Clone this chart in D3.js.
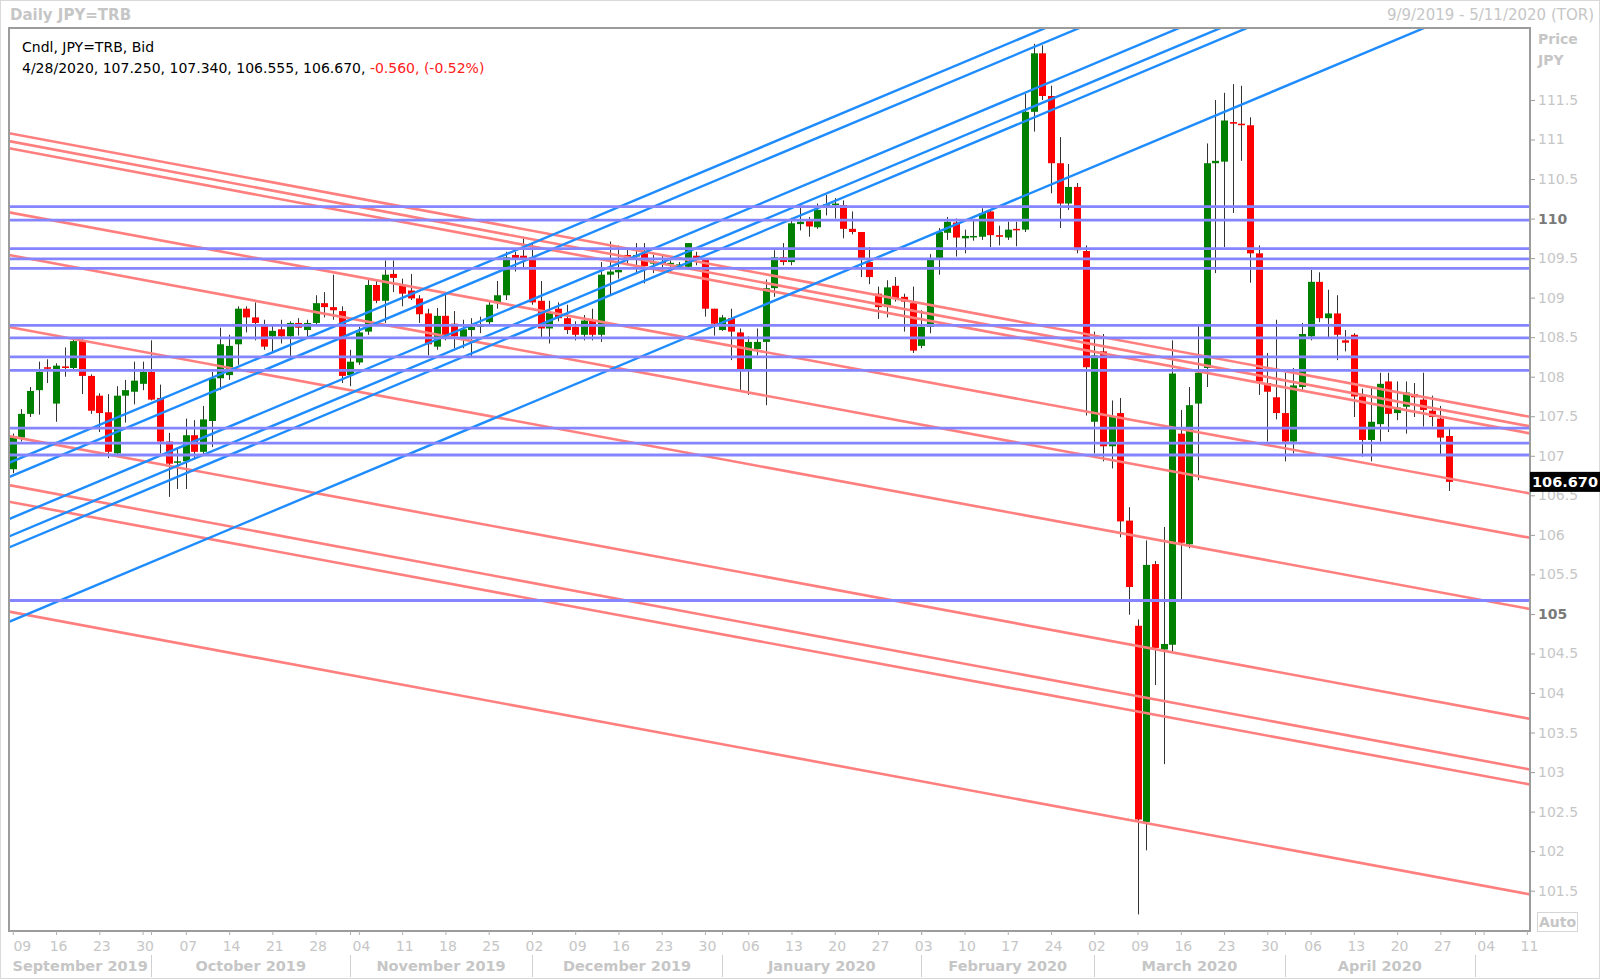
<!DOCTYPE html>
<html><head><meta charset="utf-8">
<script src="https://cdn.jsdelivr.net/npm/d3@7"></script>
<style>body{margin:0;background:#fff;} svg{display:block;font-family:"DejaVu Sans",Verdana,sans-serif;}</style>
</head><body>
<svg id="chart" width="1600" height="979"></svg>
<script>
// ---------------- DATA ----------------
const firstDay = new Date(2019, 8, 9);   // Mon 9 Sep 2019
const lastDay = new Date(2020, 4, 11);   // Mon 11 May 2020
const opens = [106.83,107.23,107.53,107.83,108.12,107.66,108.13,108.11,108.45,108.01,107.76,107.55,107.03,107.76,107.81,107.91,
108.06,107.73,107.18,106.92,106.93,107.26,107.05,107.44,107.98,108.02,108.41,108.86,108.75,108.64,108.51,108.60,108.51,108.68,108.59,108.68,108.93,108.88,108.83,
108.02,108.18,108.57,109.16,108.96,109.30,109.15,109.09,108.99,108.80,108.38,108.77,108.67,108.50,108.59,108.63,108.69,108.93,109.03,109.54,109.53,
109.51,108.96,108.61,108.86,108.74,108.63,108.53,108.71,108.53,109.29,109.32,109.54,109.52,109.56,109.43,109.45,109.43,109.41,109.39,109.53,109.48,108.86,
108.59,108.74,108.56,108.09,108.35,108.44,109.12,109.51,109.45,109.93,109.98,109.89,110.15,110.17,110.17,109.87,109.83,109.45,109.05,108.88,109.15,109.01,108.93,
108.39,108.63,109.48,109.82,109.95,109.75,109.77,109.77,110.09,109.79,109.76,109.87,109.86,111.35,112.09,111.55,110.70,110.19,110.40,109.59,
107.43,108.32,107.12,107.54,106.18,104.85,102.37,105.63,104.55,104.61,107.28,105.88,107.66,108.11,110.70,110.72,111.22,111.20,111.18,109.56,107.92,107.74,
107.54,107.18,107.87,108.51,109.20,108.74,108.80,108.46,108.53,107.75,107.20,107.40,107.94,107.54,107.62,107.78,107.71,107.57,107.47,107.25];
const highs = [107.28,107.59,107.87,108.19,108.22,108.17,108.37,108.49,108.48,108.03,107.79,107.78,107.88,107.96,108.19,108.19,
108.46,107.90,107.29,107.11,107.47,107.45,107.63,108.06,108.62,108.53,108.89,108.89,108.94,108.72,108.64,108.72,108.70,108.74,108.72,109.03,109.07,109.29,108.89,
108.34,108.63,109.23,109.21,109.47,109.47,109.24,109.30,109.03,108.86,108.87,109.06,108.83,108.72,108.74,108.76,108.95,109.21,109.58,109.58,109.77,
109.69,109.21,108.96,108.94,108.91,108.70,108.78,108.86,109.45,109.71,109.66,109.63,109.69,109.69,109.54,109.54,109.47,109.45,109.69,109.58,109.50,108.86,
108.78,108.86,108.61,108.51,108.61,109.23,109.60,109.69,110.01,110.19,110.02,110.19,110.30,110.26,110.23,110.09,109.83,109.64,109.14,109.22,109.26,109.05,109.14,
108.84,109.55,109.88,110.02,110.00,109.86,109.97,110.13,110.12,109.91,109.96,109.96,111.58,112.21,112.19,111.68,111.03,110.69,110.45,109.66,
108.57,108.54,107.70,107.73,106.35,104.93,105.93,105.67,106.10,108.46,107.58,107.87,108.64,110.95,111.50,111.59,111.70,111.68,111.28,109.66,108.30,108.72,
108.05,108.11,108.68,109.35,109.32,109.10,109.03,108.59,108.55,107.85,107.88,108.05,108.05,107.94,107.94,107.92,108.05,107.76,107.63,107.34];
const lows = [106.78,107.18,107.49,107.52,107.92,107.43,108.00,108.08,107.78,107.53,107.30,106.97,107.01,107.42,107.65,107.83,
107.70,107.03,106.48,106.58,106.58,106.95,107.01,107.11,107.83,107.96,108.15,108.56,108.46,108.34,108.30,108.42,108.26,108.52,108.51,108.65,108.75,108.72,107.92,
107.88,108.15,108.53,108.93,108.68,109.07,108.89,108.97,108.68,108.27,108.34,108.46,108.36,108.36,108.26,108.55,108.65,108.86,108.97,109.33,109.38,
108.91,108.50,108.42,108.70,108.54,108.46,108.46,108.46,108.44,109.03,109.24,109.41,109.31,109.18,109.31,109.35,109.31,109.38,109.37,109.41,108.76,108.52,
108.58,108.21,107.83,107.77,108.27,107.64,109.01,109.41,109.41,109.85,109.77,109.87,110.04,110.00,109.75,109.80,109.26,109.17,108.73,108.75,108.95,108.57,108.30,
108.36,108.55,109.29,109.73,109.52,109.56,109.72,109.73,109.64,109.66,109.73,109.65,109.83,111.10,111.50,110.32,109.88,110.11,109.56,107.51,
107.03,106.93,106.84,105.97,104.99,101.20,102.01,104.10,103.10,104.52,105.18,105.83,106.69,107.87,109.31,109.64,110.07,110.73,109.19,107.77,107.18,107.46,
106.93,107.03,107.83,108.46,108.69,108.50,108.21,108.32,107.49,106.99,106.93,107.18,107.30,107.45,107.28,107.49,107.37,107.37,107.02,106.555];
const closes = [107.25,107.53,107.82,108.06,108.10,108.14,108.11,108.45,108.01,107.57,107.54,107.05,107.76,107.83,107.95,108.06,
107.71,107.18,106.90,106.93,107.26,107.05,107.46,107.98,108.41,108.39,108.86,108.75,108.68,108.38,108.58,108.51,108.68,108.62,108.68,108.93,108.88,108.84,108.01,
108.19,108.56,109.16,108.96,109.29,109.25,109.05,108.99,108.79,108.41,108.77,108.50,108.51,108.60,108.63,108.66,108.91,109.03,109.51,109.50,109.50,
108.94,108.61,108.81,108.74,108.59,108.53,108.71,108.53,109.29,109.33,109.35,109.50,109.54,109.40,109.45,109.43,109.44,109.42,109.69,109.48,108.86,108.67,
108.75,108.57,108.09,108.44,108.44,109.12,109.51,109.45,109.94,109.96,109.90,110.11,110.18,110.19,109.87,109.83,109.48,109.26,108.88,109.13,108.99,108.95,108.33,
108.63,109.48,109.83,109.96,109.76,109.78,109.78,110.07,109.79,109.77,109.86,109.86,111.35,112.09,111.55,110.70,110.19,110.40,109.60,108.12,
108.27,107.12,107.49,106.17,105.34,102.40,105.62,104.57,104.62,108.04,105.90,107.64,108.05,110.70,110.73,111.24,111.20,111.18,109.56,107.94,107.81,107.54,
107.18,107.89,108.54,109.20,108.74,108.80,108.53,108.43,107.75,107.20,107.43,107.91,107.53,107.61,107.80,107.74,107.58,107.49,107.23,106.67];

// horizontal support / resistance levels
const hLevels = [110.15,109.98,109.62,109.49,109.37,108.65,108.49,108.25,108.08,107.35,107.16,107.01,105.17];
// rising blue trend lines: price at bar 0 and at bar 120
const blueAnchorBars = [0, 120];
const blueStart = [106.93,106.75,106.22,106.00,105.86,104.92];
const blueEnd = [112.44,112.26,111.73,111.51,111.37,110.43];
// falling red trend lines: price at bar 0 and at bar 175
const redAnchorBars = [0, 175];
const redStart = [111.07,110.97,110.88,110.07,109.53,108.62,107.24,106.62,106.41,105.02];
const redEnd = [107.50,107.38,107.29,106.53,105.97,105.07,103.68,103.04,102.85,101.46];

const priceTicks = d3.range(101.5, 111.51, 0.5);
const boldTicks = [105, 110];
const lastQuote = "4/28/2020, 107.250, 107.340, 106.555, 106.670, ";
const lastChange = "-0.560, (-0.52%)";
const lastPrice = "106.670";

// ---------------- LAYOUT ----------------
const L = 9, R = 1530, T = 28, B = 931;
const svg = d3.select("#chart");
const grey = "#c6c6c6";

const days = d3.timeDay.range(firstDay, d3.timeDay.offset(lastDay, 1)).filter(d => d.getDay() % 6 !== 0);
const candles = opens.map((o, i) => ({i, o, h: highs[i], l: lows[i], c: closes[i]}));

const x = d3.scaleLinear().domain([-0.44, 175.36]).range([L, R]);
const y = d3.scaleLinear().domain([100.99, 112.41]).range([B, T]);

// outer border
svg.append("rect").attr("x", 0.5).attr("y", 0.5).attr("width", 1599).attr("height", 978)
  .attr("fill", "none").attr("stroke", "#d9d9d9");

svg.append("defs").append("clipPath").attr("id", "plotclip")
  .append("rect").attr("x", L).attr("y", T).attr("width", R - L).attr("height", B - T);

// candles
const cg = svg.append("g").attr("clip-path", "url(#plotclip)");
const bw = 7;
cg.selectAll("line.wick").data(candles).join("line").attr("class", "wick")
  .attr("x1", d => Math.round(x(d.i)) + 0.5).attr("x2", d => Math.round(x(d.i)) + 0.5)
  .attr("y1", d => y(d.h)).attr("y2", d => y(d.l))
  .attr("stroke", "#333").attr("stroke-width", 1);
cg.selectAll("rect.body").data(candles).join("rect").attr("class", "body")
  .attr("x", d => Math.round(x(d.i)) - 3)
  .attr("width", bw)
  .attr("y", d => y(Math.max(d.o, d.c)))
  .attr("height", d => Math.max(1.5, Math.abs(y(d.o) - y(d.c))))
  .attr("fill", d => d.c >= d.o ? "#008000" : "#ff0000");

// lines
const lg = svg.append("g").attr("clip-path", "url(#plotclip)");
const xd = x.domain();
function extend(b0, p0, b1, p1) {
  const s = (p1 - p0) / (b1 - b0);
  return [[xd[0], p0 + s * (xd[0] - b0)], [xd[1], p0 + s * (xd[1] - b0)]];
}
const lineGen = d3.line().x(d => x(d[0])).y(d => y(d[1]));
lg.selectAll("path.red").data(redStart.map((p, k) => extend(redAnchorBars[0], p, redAnchorBars[1], redEnd[k])))
  .join("path").attr("class", "red").attr("d", lineGen)
  .attr("fill", "none").attr("stroke", "#ff7f7f").attr("stroke-width", 2.6);
lg.selectAll("path.blue").data(blueStart.map((p, k) => extend(blueAnchorBars[0], p, blueAnchorBars[1], blueEnd[k])))
  .join("path").attr("class", "blue").attr("d", lineGen)
  .attr("fill", "none").attr("stroke", "#1e8cff").attr("stroke-width", 2.4);
lg.selectAll("path.hl").data(hLevels.map(p => [[xd[0], p], [xd[1], p]]))
  .join("path").attr("class", "hl").attr("d", lineGen)
  .attr("fill", "none").attr("stroke", "#8585ff").attr("stroke-width", 2.8);

// frame
svg.append("rect").attr("x", L).attr("y", T).attr("width", R - L).attr("height", B - T)
  .attr("fill", "none").attr("stroke", "#9c9c9c").attr("stroke-width", 2);

// right price axis
const yAxis = d3.axisRight(y).tickValues(priceTicks).tickSize(5).tickPadding(3)
  .tickFormat(d => d3.format("")(+d.toFixed(1)));
const ya = svg.append("g").attr("transform", `translate(${R},0)`).call(yAxis);
ya.select(".domain").remove();
ya.selectAll(".tick line").attr("stroke", "#9c9c9c");
ya.selectAll(".tick text").attr("fill", grey).attr("font-size", 14).attr("font-family", "DejaVu Sans")
  .filter(d => boldTicks.includes(+d.toFixed(1)))
  .attr("fill", "#7a7a7a").attr("font-weight", "bold");

svg.append("text").attr("x", 1538).attr("y", 44).text("Price")
  .attr("font-size", 14).attr("font-weight", "bold").attr("fill", grey);
svg.append("text").attr("x", 1538).attr("y", 65).text("JPY")
  .attr("font-size", 14).attr("font-weight", "bold").attr("fill", grey);

// last price box
const ly = y(closes[closes.length - 1]);
svg.append("rect").attr("x", R).attr("y", ly - 10).attr("width", 70).attr("height", 20).attr("fill", "#000");
svg.append("text").attr("x", R + 2).attr("y", ly + 5).text(lastPrice)
  .attr("font-size", 14.5).attr("font-weight", "bold").attr("fill", "#fff");

// Auto box
svg.append("rect").attr("x", 1537.5).attr("y", 912.5).attr("width", 40).attr("height", 19)
  .attr("fill", "none").attr("stroke", "#d6d6d6");
svg.append("text").attr("x", 1557.5).attr("y", 927).attr("text-anchor", "middle").text("Auto")
  .attr("font-size", 14).attr("font-weight", "bold").attr("fill", grey);

// bottom axis
const mondays = days.map((d, i) => ({d, i})).filter(o => o.d.getDay() === 1);
const xAxis = d3.axisBottom(x).tickValues(mondays.map(o => o.i)).tickSize(4).tickPadding(6)
  .tickFormat(i => d3.timeFormat("%d")(days[i]));
const xa = svg.append("g").attr("transform", `translate(0,${B})`).call(xAxis);
xa.select(".domain").remove();
xa.selectAll(".tick line").attr("stroke", "#b0b0b0");
xa.selectAll(".tick text").attr("fill", grey).attr("font-size", 14).attr("font-family", "DejaVu Sans")
  .attr("dx", i => i === 0 ? 9 : 2);

// month separators and labels
const monthStarts = days.map((d, i) => ({d, i})).filter(o => o.i > 0 && o.d.getMonth() !== days[o.i - 1].getMonth());
const mg = svg.append("g");
mg.selectAll("line.mt").data(monthStarts).join("line").attr("class", "mt")
  .attr("x1", o => Math.round(x(o.i)) + 0.5).attr("x2", o => Math.round(x(o.i)) + 0.5)
  .attr("y1", B).attr("y2", B + 4).attr("stroke", "#b0b0b0");
mg.selectAll("line.ms").data(monthStarts).join("line").attr("class", "ms")
  .attr("x1", o => Math.round(x(o.i)) + 0.5).attr("x2", o => Math.round(x(o.i)) + 0.5)
  .attr("y1", 955).attr("y2", 977).attr("stroke", "#d0d0d0");
const segs = [];
[{d: days[0], i: -1}].concat(monthStarts).forEach((o, k, arr) => {
  const x0 = k === 0 ? L : x(o.i);
  const x1 = k + 1 < arr.length ? x(arr[k + 1].i) : R;
  const md = k === 0 ? days[0] : o.d;
  if (x1 - x0 > 100) segs.push({cx: (x0 + x1) / 2, label: d3.timeFormat("%B %Y")(md)});
});
mg.selectAll("text.mlab").data(segs).join("text").attr("class", "mlab")
  .attr("x", s => s.cx).attr("y", 971).attr("text-anchor", "middle").text(s => s.label)
  .attr("font-size", 14.5).attr("font-weight", "bold").attr("fill", grey);

// titles
svg.append("text").attr("x", 10).attr("y", 20).text("Daily JPY=TRB")
  .attr("font-size", 15).attr("font-weight", "bold").attr("fill", grey);
svg.append("text").attr("x", 1594).attr("y", 20).attr("text-anchor", "end").text("9/9/2019 - 5/11/2020 (TOR)")
  .attr("font-size", 15).attr("fill", grey);

// legend
svg.append("text").attr("x", 22).attr("y", 52).text("Cndl, JPY=TRB, Bid")
  .attr("font-size", 14).attr("fill", "#000");
const t2 = svg.append("text").attr("x", 22).attr("y", 73).attr("font-size", 14);
t2.append("tspan").attr("fill", "#000").text(lastQuote);
t2.append("tspan").attr("fill", "#ff2020").text(lastChange);
</script>
</body></html>
